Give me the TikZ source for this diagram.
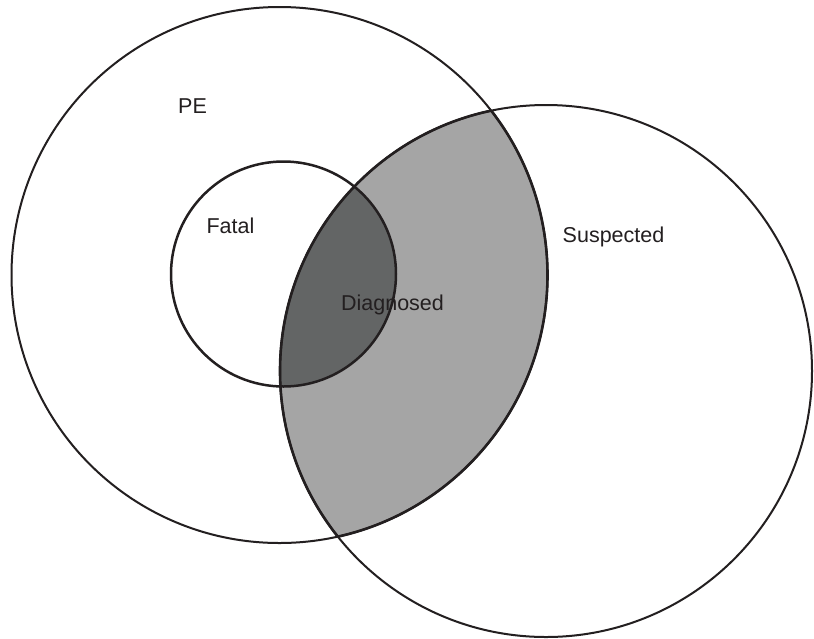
\documentclass[tikz,border=0pt]{standalone}
\usepackage{fontspec}
\setmainfont{Liberation Sans}
\definecolor{ink}{HTML}{231F20}
\definecolor{lightgray}{HTML}{A5A5A5}
\definecolor{darkgray}{HTML}{636565}
\begin{document}
\begin{tikzpicture}[x=1pt,y=-1pt,
  setline/.style={draw=ink,line width=2pt},
  lensline/.style={draw=ink,line width=2.6pt},
  label/.style={text=ink,font=\fontsize{21.5}{24}\selectfont,inner sep=0pt,anchor=center}]
\useasboundingbox (0,0) rectangle (814,638);
\fill[white] (0,0) rectangle (814,638);
% shaded regions
\begin{scope}
  \clip (279.5,275) circle[radius=268];
  \fill[lightgray] (546,371) circle[radius=266];
\end{scope}
\begin{scope}
  \clip (283.5,274) circle[radius=112.5];
  \fill[darkgray] (546,371) circle[radius=266];
\end{scope}
% outlines
\draw[setline] (279.5,275) circle[radius=268];
\draw[setline] (546,371) circle[radius=266];
\begin{scope}
  \clip (279.5,275) circle[radius=268];
  \draw[lensline] (546,371) circle[radius=266];
\end{scope}
\begin{scope}
  \clip (546,371) circle[radius=266];
  \draw[lensline] (279.5,275) circle[radius=268];
\end{scope}
\draw[ink,line width=2.5pt] (283.5,274) circle[radius=112.5];
% labels
\node[label] (pe) at (192.5,106) {PE};
\node[label] (fatal) at (230.5,226) {Fatal};
\node[label] (suspected) at (613.5,237) {Suspected};
\node[label] (diagnosed) at (392.5,305) {Diagnosed};
\end{tikzpicture}
\end{document}
